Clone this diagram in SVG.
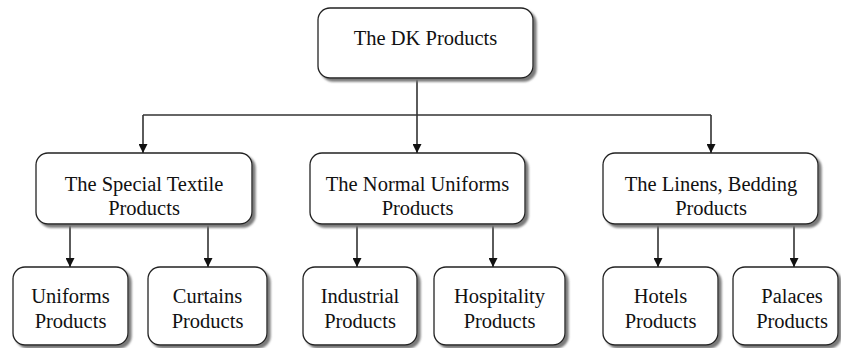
<svg xmlns="http://www.w3.org/2000/svg" width="841" height="348" viewBox="0 0 841 348">
  <style>
    .box { fill: #ffffff; stroke: #222222; stroke-width: 1.3; filter: url(#shadow); }
    .label { font-family: "Liberation Serif", "Times New Roman", serif; font-size: 20.5px; fill: #111111; text-anchor: middle; }
    .wire { fill: none; stroke: #333333; stroke-width: 1.6; }
    .arrow { fill: none; stroke: #333333; stroke-width: 1.6; marker-end: url(#head); }
  </style>
  <defs>
    <!-- soft grey drop shadow, offset to the lower right -->
    <filter id="shadow" x="-10%" y="-10%" width="125%" height="130%">
      <feGaussianBlur in="SourceAlpha" stdDeviation="1.3"/>
      <feOffset dx="3" dy="3" result="off"/>
      <feFlood flood-color="#7a7a7a"/>
      <feComposite in2="off" operator="in"/>
      <feMerge>
        <feMergeNode/>
        <feMergeNode in="SourceGraphic"/>
      </feMerge>
    </filter>
    <marker id="head" viewBox="0 0 10 10" refX="10" refY="5" markerWidth="9" markerHeight="9" markerUnits="userSpaceOnUse" orient="auto">
      <path d="M0,0 L10,5 L0,10 Z" fill="#111111"/>
    </marker>
  </defs>

  <rect width="841" height="348" fill="#ffffff"/>

  <!-- connectors -->
  <g id="connectors">
    <line class="arrow" x1="417" y1="78" x2="417" y2="153"/>
    <line class="wire" x1="143" y1="115" x2="711" y2="115"/>
    <line class="arrow" x1="143" y1="115" x2="143" y2="153"/>
    <line class="arrow" x1="711" y1="115" x2="711" y2="153"/>
    <line class="arrow" x1="70" y1="224" x2="70" y2="267"/>
    <line class="arrow" x1="208" y1="224" x2="208" y2="267"/>
    <line class="arrow" x1="357" y1="224" x2="357" y2="267"/>
    <line class="arrow" x1="493" y1="224" x2="493" y2="267"/>
    <line class="arrow" x1="658" y1="224" x2="658" y2="267"/>
    <line class="arrow" x1="794" y1="224" x2="794" y2="267"/>
  </g>

  <!-- root -->
  <g id="dk-products">
    <rect class="box" x="318" y="8" width="215" height="70" rx="12"/>
    <text class="label" x="425.5" y="45">The DK Products</text>
  </g>

  <!-- second level -->
  <g id="special-textile">
    <rect class="box" x="36" y="153" width="216" height="71" rx="12"/>
    <text class="label" x="144" y="191">The Special Textile</text>
    <text class="label" x="144" y="215">Products</text>
  </g>
  <g id="normal-uniforms">
    <rect class="box" x="310" y="153" width="215" height="71" rx="12"/>
    <text class="label" x="417.5" y="191">The Normal Uniforms</text>
    <text class="label" x="417.5" y="215">Products</text>
  </g>
  <g id="linens-bedding">
    <rect class="box" x="603" y="153" width="215" height="71" rx="12"/>
    <text class="label" x="711" y="191">The Linens, Bedding</text>
    <text class="label" x="711" y="215">Products</text>
  </g>

  <!-- third level -->
  <g id="uniforms">
    <rect class="box" x="13" y="267" width="115" height="78" rx="12"/>
    <text class="label" x="70.5" y="303">Uniforms</text>
    <text class="label" x="70.5" y="328">Products</text>
  </g>
  <g id="curtains">
    <rect class="box" x="148" y="267" width="119" height="78" rx="12"/>
    <text class="label" x="207.5" y="303">Curtains</text>
    <text class="label" x="207.5" y="328">Products</text>
  </g>
  <g id="industrial">
    <rect class="box" x="303" y="267" width="114" height="78" rx="12"/>
    <text class="label" x="360" y="303">Industrial</text>
    <text class="label" x="360" y="328">Products</text>
  </g>
  <g id="hospitality">
    <rect class="box" x="434" y="267" width="131" height="78" rx="12"/>
    <text class="label" x="499.5" y="303">Hospitality</text>
    <text class="label" x="499.5" y="328">Products</text>
  </g>
  <g id="hotels">
    <rect class="box" x="603" y="267" width="115" height="78" rx="12"/>
    <text class="label" x="660.5" y="303">Hotels</text>
    <text class="label" x="660.5" y="328">Products</text>
  </g>
  <g id="palaces">
    <rect class="box" x="733" y="267" width="105" height="78" rx="12"/>
    <text class="label" x="792" y="303">Palaces</text>
    <text class="label" x="792" y="328">Products</text>
  </g>
</svg>
